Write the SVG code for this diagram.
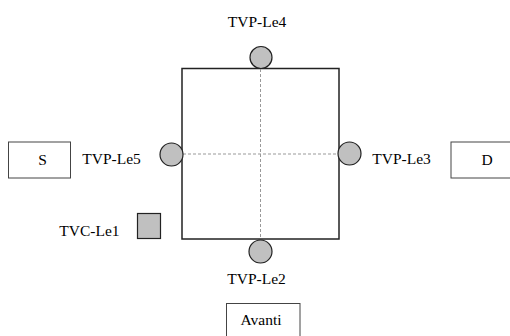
<svg xmlns="http://www.w3.org/2000/svg" width="510" height="336" viewBox="0 0 510 336">
<style>
text{font-family:"Liberation Serif","Times New Roman",serif;font-size:15.5px;fill:#000;text-anchor:middle}
.box{fill:#fff;stroke:#444;stroke-width:1}
.port{fill:#c0c0c0;stroke:#222;stroke-width:1.2}
.guide{stroke:#999;stroke-width:1;stroke-dasharray:3,2;fill:none}
</style>
<rect width="510" height="336" fill="#fff"/>
<g id="main">
<rect x="182" y="68.5" width="157" height="170.5" fill="#fff" stroke="#222" stroke-width="1.5"/>
</g>
<g id="connectors">
<line class="guide" x1="260.5" y1="69" x2="260.5" y2="239"/>
<line class="guide" x1="183" y1="154" x2="338" y2="154"/>
</g>
<g id="TVP-Le4"><circle class="port" cx="261" cy="57.5" r="11"/><text x="257" y="27">TVP-Le4</text></g>
<g id="TVP-Le5"><circle class="port" cx="171.5" cy="154.5" r="11.5"/><text x="111.5" y="164">TVP-Le5</text></g>
<g id="TVP-Le3"><circle class="port" cx="349.5" cy="153.5" r="11.5"/><text x="401.5" y="164">TVP-Le3</text></g>
<g id="TVP-Le2"><circle class="port" cx="260.5" cy="251.5" r="11.5"/><text x="256.5" y="284">TVP-Le2</text></g>
<g id="TVC-Le1"><rect x="137.5" y="213.5" width="23" height="25" fill="#c0c0c0" stroke="#222" stroke-width="1.2"/><text x="89.5" y="236">TVC-Le1</text></g>
<g id="S"><rect class="box" x="8.5" y="142" width="62" height="36"/><text x="42.5" y="164.5">S</text></g>
<g id="D"><rect class="box" x="451" y="142" width="72" height="36"/><text x="487" y="164.5">D</text></g>
<g id="Avanti"><rect class="box" x="226.5" y="303.5" width="73.5" height="40"/><text x="261" y="325">Avanti</text></g>
</svg>
